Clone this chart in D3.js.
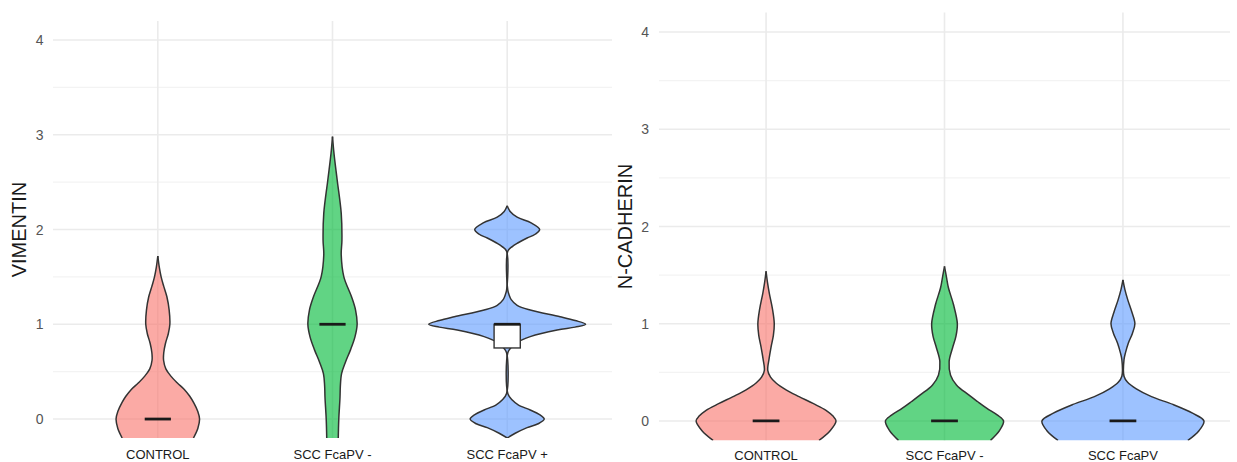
<!DOCTYPE html>
<html>
<head>
<meta charset="utf-8">
<script src="https://cdn.jsdelivr.net/npm/d3@7"></script>
<style>
  html, body { margin: 0; padding: 0; background: #ffffff; }
  svg { display: block; font-family: "Liberation Sans", Arial, sans-serif; }
</style>
</head>
<body>
<svg id="chart" width="1237" height="462"></svg>
<script>
// ---------------- DATA ----------------
const categoriesLeft = ["CONTROL", "SCC FcaPV -", "SCC FcaPV +"];
const categoriesRight = ["CONTROL", "SCC FcaPV -", "SCC FcaPV"];
const yTicks = [0, 1, 2, 3, 4];
const yMinorTicks = [0.5, 1.5, 2.5, 3.5];
const yTitles = ["VIMENTIN", "N-CADHERIN"];

// Violin profiles: [value, half-width as % of category spacing]
const vimControl = [[1.72,0],[1.60,0.86],[1.50,1.9],[1.40,3.4],[1.29,5.2],[1.15,6.5],[1.0,6.9],[0.90,6.0],[0.80,4.4],[0.70,3.4],[0.62,3.3],[0.53,4.6],[0.45,7.6],[0.38,11.2],[0.31,15.3],[0.24,18.3],[0.17,20.6],[0.08,22.9],[0,23.9],[-0.10,22.9],[-0.2,20.4]];
const vimSccNeg = [[2.98,0],[2.80,0.86],[2.52,2.7],[2.17,5.0],[1.89,5.4],[1.73,5.0],[1.50,6.5],[1.29,10.9],[1.15,13.2],[1.0,14.1],[0.87,12.9],[0.73,10.3],[0.60,7.4],[0.48,5.2],[0.35,4.5],[0.23,4.3],[0.0,3.6],[-0.2,3.3]];
const vimSccPos = [[2.25,0],[2.19,1.7],[2.13,5.7],[2.07,13.7],[2.0,18.6],[1.95,16.0],[1.91,11.4],[1.86,6.3],[1.82,2.9],[1.77,0.35],[1.36,0.35],[1.31,1.1],[1.26,2.3],[1.20,5.7],[1.15,13.2],[1.08,30.3],[1.04,38.9],[1.0,44.9],[0.97,38.9],[0.94,28.6],[0.87,13.2],[0.81,5.7],[0.75,2.0],[0.70,0.35],[0.27,0.35],[0.2,2.9],[0.15,6.3],[0.095,13.2],[0.05,18.3],[0,21.2],[-0.05,17.7],[-0.09,11.4],[-0.15,4.6],[-0.2,0]];
const ncadControl = [[1.54,0],[1.42,0.84],[1.31,1.85],[1.15,3.6],[1.0,4.6],[0.88,4.1],[0.76,2.8],[0.64,1.7],[0.52,0.95],[0.45,2.5],[0.39,5.6],[0.32,11.2],[0.25,18.5],[0.18,26.3],[0.11,33.6],[0.05,37.5],[0,39.2],[-0.1,35.9],[-0.2,29.7]];
const ncadSccNeg = [[1.59,0],[1.48,1.1],[1.37,2.2],[1.2,5.0],[1.0,7.2],[0.87,6.4],[0.75,4.5],[0.61,2.6],[0.47,3.4],[0.37,6.7],[0.27,13.4],[0.20,18.5],[0.13,23.8],[0.06,29.7],[0,33.1],[-0.1,30.8],[-0.2,25.8]];
const ncadSccPos = [[1.45,0],[1.35,1.1],[1.24,2.8],[1.12,5.0],[1.0,6.7],[0.90,5.3],[0.80,3.0],[0.70,1.4],[0.63,0.6],[0.46,0.6],[0.40,2.5],[0.33,7.5],[0.25,16.0],[0.17,28.0],[0.08,39.0],[0,45.4],[-0.1,42.6],[-0.2,36.4]];

// Box summaries (Q1, median, Q3) per category
const vimQ1 = [0, 1, 0.75];
const vimMedian = [0, 1, 1];
const vimQ3 = [0, 1, 1];
const ncadQ1 = [0, 0, 0];
const ncadMedian = [0, 0, 0];
const ncadQ3 = [0, 0, 0];

const fillColors = ["#F8766D", "#00BA38", "#619CFF"];

// ---------------- DRAW ----------------
const svg = d3.select("#chart");

const panels = [
  { title: yTitles[0], cats: categoriesLeft, violins: [vimControl, vimSccNeg, vimSccPos],
    q1: vimQ1, med: vimMedian, q3: vimQ3,
    x0: 53, x1: 612, yTop: 21, yBot: 438, titleX: 19, tickX: 43.5, labelY: 459 },
  { title: yTitles[1], cats: categoriesRight, violins: [ncadControl, ncadSccNeg, ncadSccPos],
    q1: ncadQ1, med: ncadMedian, q3: ncadQ3,
    x0: 659, x1: 1230, yTop: 12.6, yBot: 440.4, titleX: 624.5, tickX: 649, labelY: 460 }
];

panels.forEach((p, pi) => {
  const x = d3.scalePoint().domain(p.cats).range([p.x0, p.x1]).padding(0.6);
  const y = d3.scaleLinear().domain([-0.2, 4.2]).range([p.yBot, p.yTop]);
  const w = d3.scaleLinear().domain([0, 100]).range([0, x.step()]);
  const g = svg.append("g");

  const clipId = "clip" + pi;
  svg.append("clipPath").attr("id", clipId).append("rect")
    .attr("x", p.x0).attr("y", p.yTop).attr("width", p.x1 - p.x0).attr("height", p.yBot - p.yTop);

  // grid
  g.selectAll(".minor").data(yMinorTicks).join("line")
    .attr("x1", p.x0).attr("x2", p.x1)
    .attr("y1", d => y(d)).attr("y2", d => y(d))
    .attr("stroke", "#f3f3f3").attr("stroke-width", 1.1);
  g.selectAll(".major").data(yTicks).join("line")
    .attr("x1", p.x0).attr("x2", p.x1)
    .attr("y1", d => y(d)).attr("y2", d => y(d))
    .attr("stroke", "#ebebeb").attr("stroke-width", 1.6);
  g.selectAll(".vgrid").data(p.cats).join("line")
    .attr("x1", d => x(d)).attr("x2", d => x(d))
    .attr("y1", p.yTop).attr("y2", p.yBot)
    .attr("stroke", "#ebebeb").attr("stroke-width", 1.6);

  // y tick labels
  g.selectAll(".ytl").data(yTicks).join("text")
    .attr("x", p.tickX).attr("y", d => y(d)).attr("dy", "0.36em")
    .attr("text-anchor", "end").attr("font-size", 14).attr("fill", "#555555")
    .text(d => d);

  // x labels
  g.selectAll(".xtl").data(p.cats).join("text")
    .attr("x", d => x(d)).attr("y", p.labelY)
    .attr("text-anchor", "middle").attr("font-size", 13).attr("fill", "#1a1a1a")
    .text(d => d);

  // y title
  g.append("text")
    .attr("transform", `translate(${p.titleX},${(p.yTop + p.yBot) / 2}) rotate(-90)`)
    .attr("text-anchor", "middle").attr("dy", "0.36em")
    .attr("font-size", 20).attr("fill", "#1a1a1a")
    .text(p.title);

  // violins
  const vg = g.append("g").attr("clip-path", `url(#${clipId})`);
  p.cats.forEach((c, i) => {
    const cx = x(c);
    const prof = p.violins[i];
    const area = d3.area()
      .y(d => y(d[0]))
      .x0(d => cx - w(d[1]))
      .x1(d => cx + w(d[1]))
      .curve(d3.curveCatmullRom.alpha(0.5));
    vg.append("path").datum(prof).attr("d", area)
      .attr("fill", fillColors[i]).attr("fill-opacity", 0.62).attr("stroke", "none");
    const lineL = d3.line().x(d => cx - w(d[1])).y(d => y(d[0])).curve(d3.curveCatmullRom.alpha(0.5));
    const lineR = d3.line().x(d => cx + w(d[1])).y(d => y(d[0])).curve(d3.curveCatmullRom.alpha(0.5));
    [lineL, lineR].forEach(ln => {
      vg.append("path").datum(prof).attr("d", ln)
        .attr("fill", "none").attr("stroke", "#333333").attr("stroke-width", 1.5)
        .attr("stroke-linejoin", "round");
    });

    // box / median
    const bw = w(15) / 2;
    if (p.q3[i] > p.q1[i]) {
      vg.append("rect")
        .attr("x", cx - bw).attr("width", bw * 2)
        .attr("y", y(p.q3[i])).attr("height", y(p.q1[i]) - y(p.q3[i]))
        .attr("fill", "#ffffff").attr("stroke", "#333333").attr("stroke-width", 1.4);
    }
    vg.append("line")
      .attr("x1", cx - bw).attr("x2", cx + bw)
      .attr("y1", y(p.med[i])).attr("y2", y(p.med[i]))
      .attr("stroke", "#1a1a1a").attr("stroke-width", 2.8);
  });
});
</script>
</body>
</html>
